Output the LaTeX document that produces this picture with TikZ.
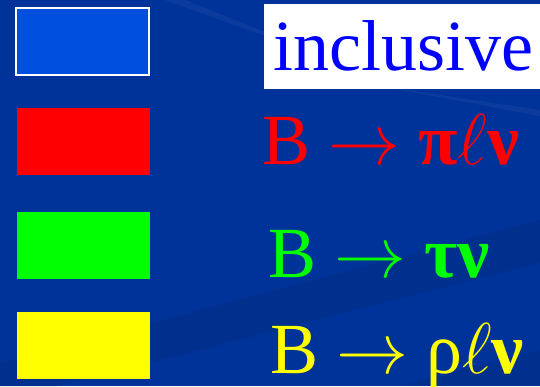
\RequirePackage{fix-cm}
\documentclass[tikz,border=0pt]{standalone}
\usepackage{fontspec}
\setmainfont{Liberation Serif}
\usepackage{tikz}
\usetikzlibrary{positioning}
\definecolor{slide}{HTML}{003399}
\definecolor{swatchblue}{HTML}{004FDE}
\definecolor{pureblue}{HTML}{0000FF}
\definecolor{pured}{HTML}{FF0000}
\definecolor{puregreen}{HTML}{00FF00}
\definecolor{pureyellow}{HTML}{FFFF00}
\tikzset{swatch/.style={anchor=north west,minimum width=133pt,minimum height=67pt,inner sep=0pt,outer sep=0pt},lbl/.style={anchor=base west,inner sep=0pt,font=\fontsize{72}{86}\selectfont}}

\begin{document}
\begin{tikzpicture}[x=1pt,y=1pt]
% slide background with faint swooshes
\fill[slide] (0,0) rectangle (540,386);
\useasboundingbox (0,0) rectangle (540,386);
\fill[black,opacity=0.07] (0,23) -- (540,166) -- (540,123) -- (0,-15) -- cycle;
\fill[black,opacity=0.07] (400,0) -- (540,36) -- (540,0) -- cycle;
\fill[white,opacity=0.04] (165,386) -- (265,350) -- (270,352) -- (185,386) -- cycle;
\fill[white,opacity=0.04] (380,300) -- (540,276) -- (540,270) -- cycle;
% colour keys
\node[swatch,fill=swatchblue,draw=white,line width=2pt] (keyincl) at (16,378) {};
\node[swatch,fill=pured] (keypi) at (17,278) {};
\node[swatch,fill=puregreen] (keytau) at (17,174) {};
\node[swatch,fill=pureyellow] (keyrho) at (17,74) {};
% labels
\fill[white] (264,382) rectangle (540,297);
\node[lbl,text=pureblue] (incl) at (273,315) {inclusive};
\node[lbl,text=pured] (pilnu) at (262,222) {B $\rightarrow$ \textbf{π}$\ell$\textbf{ν}};
\node[lbl,text=puregreen] (taunu) at (268,109) {B $\rightarrow$ \textbf{τν}};
\node[lbl,text=pureyellow] (rholnu) at (270,13) {B $\rightarrow$ ρ$\ell$\textbf{ν}};
\end{tikzpicture}
\end{document}
